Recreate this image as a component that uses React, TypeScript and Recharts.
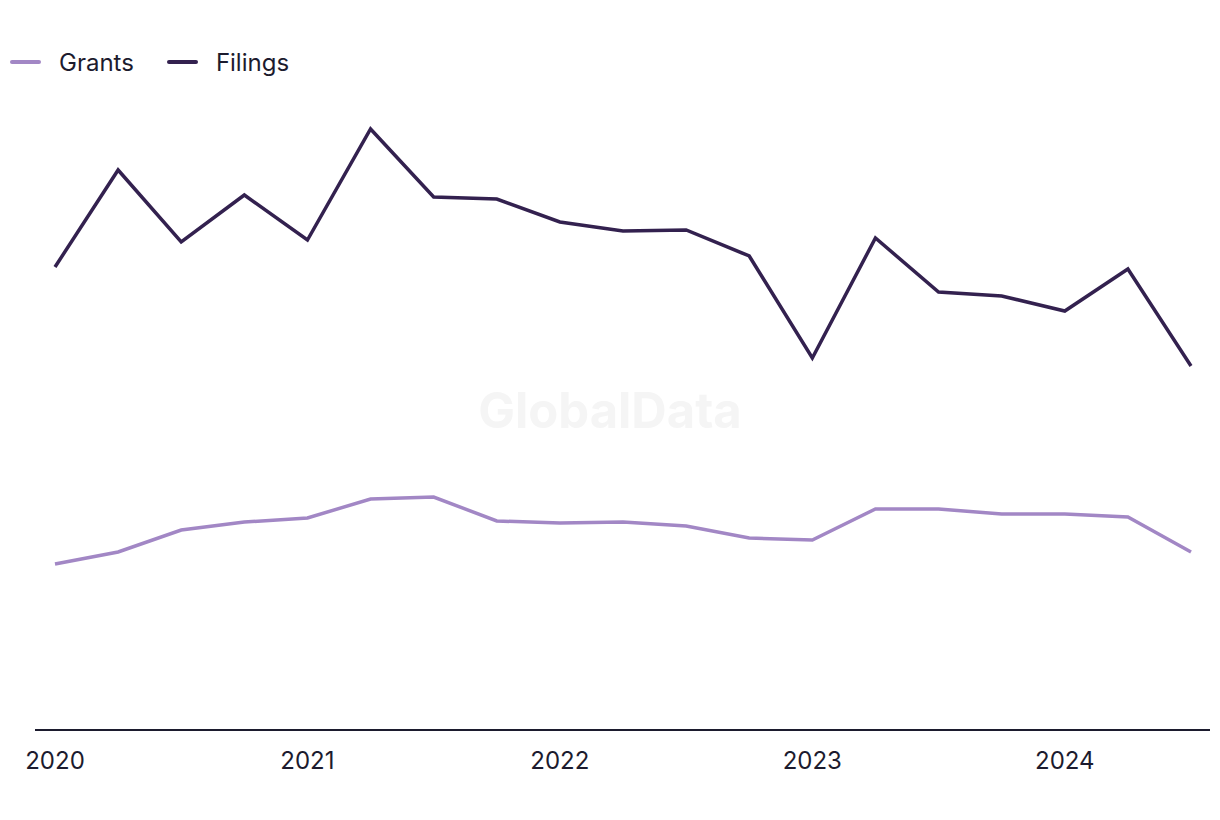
import React from "react";
import { LineChart, Line, XAxis, YAxis } from "recharts";

const quarters = [
  "2020 Q1", "2020 Q2", "2020 Q3", "2020 Q4",
  "2021 Q1", "2021 Q2", "2021 Q3", "2021 Q4",
  "2022 Q1", "2022 Q2", "2022 Q3", "2022 Q4",
  "2023 Q1", "2023 Q2", "2023 Q3", "2023 Q4",
  "2024 Q1", "2024 Q2", "2024 Q3",
];
const filings = [92.6, 112, 97.6, 107, 98, 120.2, 106.6, 106.2, 101.6, 99.8, 100, 94.8, 74.4, 98.4, 87.6, 86.8, 83.8, 92.2, 72.8];
const grants = [33.2, 35.6, 40, 41.6, 42.4, 46.2, 46.6, 41.8, 41.4, 41.6, 40.8, 38.4, 38, 44.2, 44.2, 43.2, 43.2, 42.6, 35.6];
const yearTicks = ["2020 Q1", "2021 Q1", "2022 Q1", "2023 Q1", "2024 Q1"];

const data = quarters.map((q, i) => ({ q, Grants: grants[i], Filings: filings[i] }));

const FONT = "Inter, 'Noto Sans', sans-serif";
const TEXT = "#1c1b2e";
const GRANTS_COLOR = "#a287c5";
const FILINGS_COLOR = "#33214f";

const legendItems = [
  { name: "Grants", color: GRANTS_COLOR },
  { name: "Filings", color: FILINGS_COLOR },
];

function LegendBlock() {
  return (
    <div
      style={{
        position: "absolute",
        left: 10,
        top: 46,
        height: 32,
        display: "flex",
        alignItems: "center",
        fontFamily: FONT,
        fontSize: 24,
        color: TEXT,
      }}
    >
      {legendItems.map((it) => (
        <div key={it.name} style={{ display: "flex", alignItems: "center", marginRight: 33 }}>
          <div style={{ width: 31, height: 4, borderRadius: 2, background: it.color, marginRight: 18 }} />
          <span>{it.name}</span>
        </div>
      ))}
    </div>
  );
}

export default function App() {
  return (
    <div style={{ position: "absolute", left: 0, top: 0, width: 1220, height: 820, background: "#fff" }}>
      <div
        style={{
          position: "absolute",
          left: 0,
          width: 1220,
          top: 381,
          textAlign: "center",
          fontFamily: FONT,
          fontWeight: 700,
          fontSize: 49,
          color: "#f5f5f5",
          pointerEvents: "none",
        }}
      >
        GlobalData
      </div>
      <LegendBlock />
      <LineChart width={1220} height={820} data={data} margin={{ top: 100, right: 10, left: 35, bottom: 30 }}>
        <XAxis
          dataKey="q"
          ticks={yearTicks}
          tickFormatter={(v: string) => v.slice(0, 4)}
          interval={0}
          height={60}
          padding={{ left: 20, right: 19 }}
          axisLine={{ stroke: TEXT, strokeWidth: 2 }}
          tickLine={false}
          tickSize={0}
          tickMargin={22}
          tick={{ fill: TEXT, fontSize: 24, fontFamily: FONT }}
        />
        <YAxis hide domain={[0, 126]} />
        <Line
          type="linear"
          dataKey="Grants"
          stroke={GRANTS_COLOR}
          strokeWidth={3.5}
          dot={false}
          activeDot={false}
          isAnimationActive={false}
        />
        <Line
          type="linear"
          dataKey="Filings"
          stroke={FILINGS_COLOR}
          strokeWidth={3.5}
          dot={false}
          activeDot={false}
          isAnimationActive={false}
        />
      </LineChart>
    </div>
  );
}
